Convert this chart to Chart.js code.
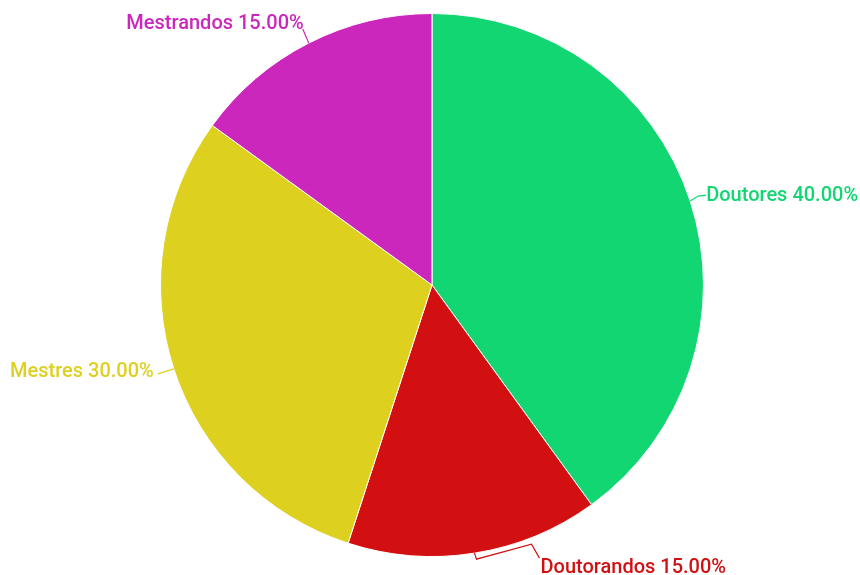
<!DOCTYPE html>
<html>
<head>
<meta charset="utf-8">
<script src="https://cdn.jsdelivr.net/npm/chart.js@4"></script>
<style>
  html, body { margin: 0; padding: 0; background: #fff; }
  #wrap { width: 860px; height: 575px; position: relative; }
</style>
</head>
<body>
<div id="wrap"><canvas id="pieChart"></canvas></div>
<script>
// Chart data
var categories = ["Doutores", "Doutorandos", "Mestres", "Mestrandos"];
var percentages = [40, 15, 30, 15];
var sliceColors = ["#12D671", "#D21011", "#DDD01F", "#CC27BC"];

// Label placement per slice: text anchor offset from arc midpoint and leader bends
var labelStyle = [
    { dx: 16, dy: -5, align: "left", path: [[8, -5], [16, -6]] },
    { dx: 66, dy: 15, align: "left", path: [[2, 6], [57, -9], [65, 5]] },
    { dx: -20, dy: 3, align: "right", path: [[-16, 5]] },
    { dx: -5, dy: -19, align: "right", path: [[-6, -14]] }
];

var outsideLabels = {
    id: "outsideLabels",
    afterDatasetsDraw: function (chart) {
        var ctx = chart.ctx;
        var meta = chart.getDatasetMeta(0);
        var total = percentages.reduce((a, b) => a + b, 0);
        ctx.save();
        ctx.font = "500 20px Roboto";
        ctx.textBaseline = "middle";
        meta.data.forEach(function (arc, i) {
            var mid = (arc.startAngle + arc.endAngle) / 2;
            var r = arc.outerRadius;
            var ax = arc.x + Math.cos(mid) * r;
            var ay = arc.y + Math.sin(mid) * r;
            var st = labelStyle[i];
            // leader line
            ctx.strokeStyle = sliceColors[i];
            ctx.lineWidth = 1.2;
            ctx.beginPath();
            ctx.moveTo(ax, ay);
            st.path.forEach(function (p) { ctx.lineTo(ax + p[0], ay + p[1]); });
            ctx.stroke();
            // text
            var pct = (percentages[i] / total * 100).toFixed(2) + "%";
            ctx.fillStyle = sliceColors[i];
            ctx.textAlign = st.align;
            ctx.fillText(categories[i] + " " + pct, ax + st.dx, ay + st.dy);
        });
        ctx.restore();
    }
};

var ctx = document.getElementById("pieChart").getContext("2d");
var pieChart = new Chart(ctx, {
    type: "pie",
    data: {
        labels: categories,
        datasets: [{
            data: percentages,
            backgroundColor: sliceColors,
            borderColor: "#ffffff",
            borderWidth: 1
        }]
    },
    options: {
        responsive: true,
        maintainAspectRatio: false,
        animation: false,
        layout: { padding: { top: 13, bottom: 18, left: 4, right: 0 } },
        plugins: {
            legend: { display: false },
            tooltip: { enabled: false }
        }
    },
    plugins: [outsideLabels]
});
</script>
</body>
</html>
